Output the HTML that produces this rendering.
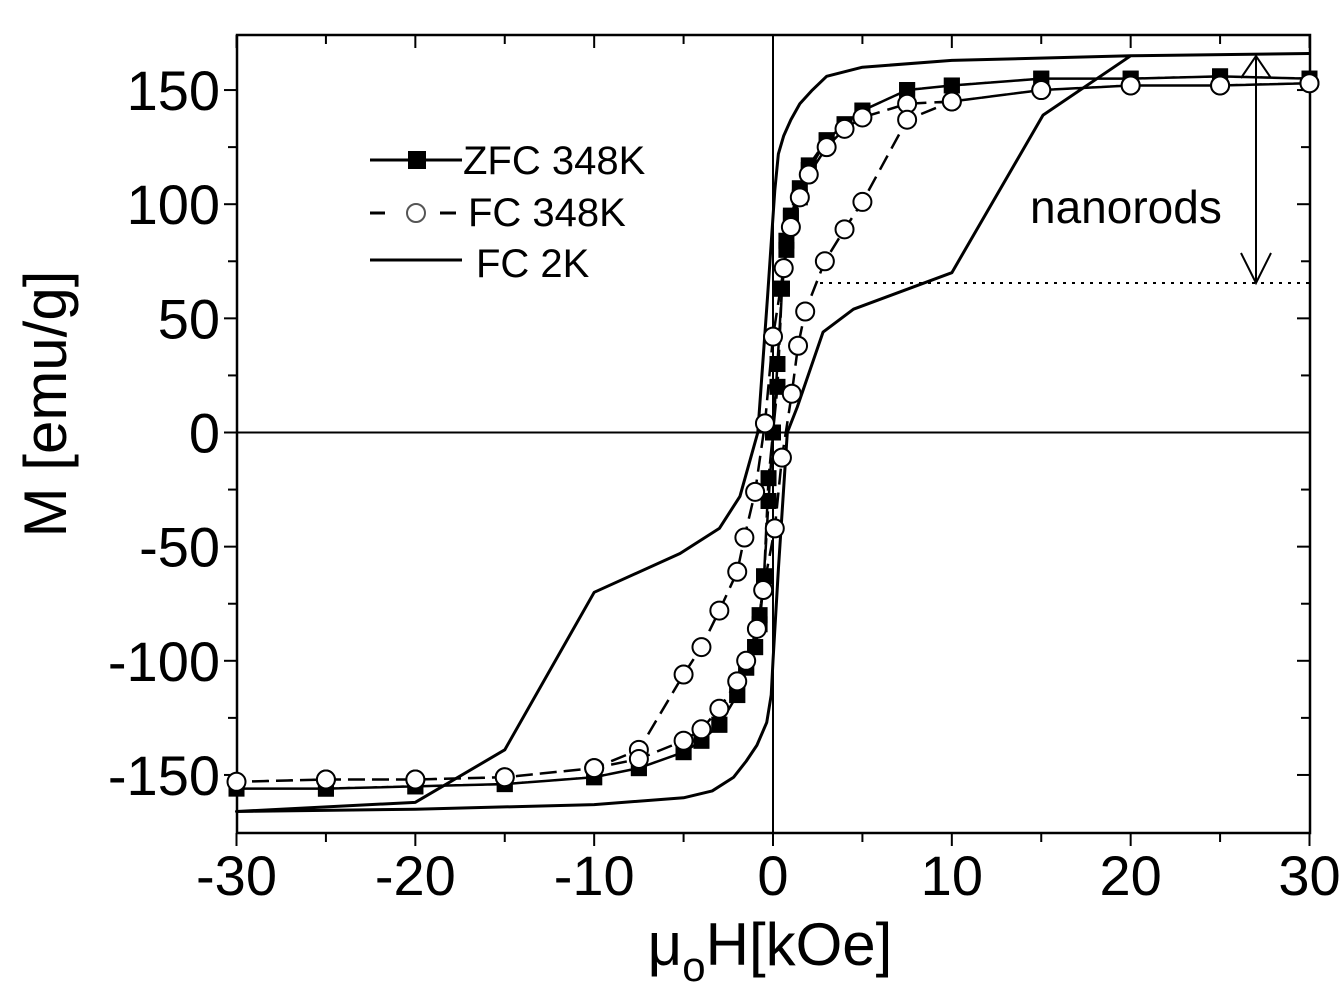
<!DOCTYPE html>
<html><head><meta charset="utf-8">
<style>
html,body{margin:0;padding:0;background:#fff;}
svg{display:block;font-family:"Liberation Sans",Arial,sans-serif;}
</style></head>
<body>
<svg id="chart" width="1342" height="1000" viewBox="0 0 1342 1000" xmlns="http://www.w3.org/2000/svg">
<g id="axes"></g>
<g id="series"></g>
<g id="legend">
  <line x1="370" y1="160" x2="462" y2="160" stroke="#000" stroke-width="3"/>
  <rect x="408" y="151" width="18" height="18" fill="#000"/>
  <text x="463" y="174" font-size="40">ZFC 348K</text>
  <line x1="370" y1="213" x2="385" y2="213" stroke="#000" stroke-width="3"/>
  <line x1="440" y1="213" x2="456" y2="213" stroke="#000" stroke-width="3"/>
  <circle cx="416" cy="213" r="9" fill="#fff" stroke="#555" stroke-width="2"/>
  <text x="468" y="226" font-size="40">FC 348K</text>
  <line x1="370" y1="260" x2="462" y2="260" stroke="#000" stroke-width="3"/>
  <text x="476" y="277" font-size="40">FC 2K</text>
</g>
<g>
  <line x1="820" y1="283" x2="1310" y2="283" stroke="#000" stroke-width="2" stroke-dasharray="3,6"/>
  <line x1="1256" y1="56" x2="1256" y2="283" stroke="#000" stroke-width="2"/>
  <polyline points="1241,78 1256,56 1271,78" fill="none" stroke="#000" stroke-width="2"/>
  <polyline points="1241,253 1256,283 1271,253" fill="none" stroke="#000" stroke-width="2"/>
  <text x="1030" y="223" font-size="46">nanorods</text>
</g>
<text transform="translate(66,404) rotate(-90)" text-anchor="middle" font-size="60">M [emu/g]</text>
<text x="770" y="965" text-anchor="middle" font-size="60">μ<tspan font-size="42" dy="16">o</tspan><tspan dy="-16">H[kOe]</tspan></text>
</svg>
<script>
// ---- data ----
const xTicks = [-30,-20,-10,0,10,20,30];
const yTicks = [-150,-100,-50,0,50,100,150];
const zfcH = [30,25,20,15,10,7.5,5,4,3,2,1.5,1,0.75,0.5,0.25,0,-0.25,-0.5,-0.75,-1,-1.5,-2,-3,-4,-5,-7.5,-10,-15,-20,-25,-30,
              -25,-20,-15,-10,-7.5,-5,-4,-3,-2,-1.5,-1,-0.75,-0.5,-0.25,0,0.25,0.5,0.75,1,1.5,2,3,4,5,7.5,10,15,20,25,30];
const zfcM = [155,156,155,155,152,150,141,135,128,117,107,95,84,63,30,0,-20,-63,-80,-94,-103,-115,-128,-135,-140,-147,-151,-154,-155,-156,-156,
              -156,-155,-154,-151,-147,-140,-135,-128,-115,-103,-94,-84,-63,-30,0,20,63,80,94,103,115,128,135,141,150,152,155,155,156,155];
const fcH = [30,25,20,15,10,7.5,5,4,3,2,1.5,1,0.6,0,-0.45,-1,-1.6,-2,-3,-4,-5,-7.5,-10,-15,-20,-25,-30,
             -25,-20,-15,-10,-7.5,-5,-4,-3,-2,-1.5,-0.9,-0.55,0.1,0.5,1.05,1.4,1.8,2.9,4,5,7.5,10,15,20,25,30];
const fcM = [153,152,152,150,145,144,138,133,125,113,103,90,72,42,4,-26,-46,-61,-78,-94,-106,-139,-147,-151,-152,-152,-153,
             -152,-152,-151,-147,-143,-135,-130,-121,-109,-100,-86,-69,-42,-11,17,38,53,75,89,101,137,145,150,152,152,153];
const fc2kH = [30,20,10,5,3,2.2,1.5,1,0.6,0.3,0.1,-0.3,-0.85,-1.85,-3,-5.2,-10,-15,-20,-30,
               -20,-10,-5,-3.4,-2.2,-1.5,-0.9,-0.35,-0.1,0,0.3,0.8,1.35,2.8,4.5,10,15.1,20,30];
const fc2kM = [166,165,163,160,156,150,144,137,130,122,106,60,0,-28,-42,-53,-70,-139,-162,-166,
               -165,-163,-160,-157,-151,-144,-137,-127,-115,-100,-60,0,11,44,54,70,139,165,166];
// ---- scales ----
const X0=237,X1=1310,Y0=35,Y1=833;
const sx = v => 773 + v*17.883;
const sy = m => 432.5 - m*2.283;
const NS='http://www.w3.org/2000/svg';
function mk(tag, attrs, parent){const e=document.createElementNS(NS,tag);for(const k in attrs)e.setAttribute(k,attrs[k]);parent.appendChild(e);return e;}
const axes=document.getElementById('axes');
const series=document.getElementById('series');
const fr=mk('rect',{x:X0,y:Y0,width:X1-X0,height:Y1-Y0,fill:'none',stroke:'#000','stroke-width':2.5},axes);


const zh=mk('line',{x1:X0,x2:X1,y1:sy(0),y2:sy(0),stroke:'#000','stroke-width':2},axes);


const zv=mk('line',{x1:sx(0),x2:sx(0),y1:Y0,y2:Y1,stroke:'#000','stroke-width':2},axes);


for(let v=-30;v<=30;v+=5){
  const major = v%10===0, L = major?13:9;
  mk('line',{x1:sx(v),x2:sx(v),y1:Y1,y2:Y1+L,stroke:'#000','stroke-width':2},axes);
  mk('line',{x1:sx(v),x2:sx(v),y1:Y0,y2:Y0+L,stroke:'#000','stroke-width':2},axes);
}
xTicks.forEach(v=>{
  const t=mk('text',{x:sx(v),y:895,'text-anchor':'middle','font-size':56},axes);
  
  
  t.textContent=v;
});
for(let m=-150;m<=150;m+=25){
  const major = m%50===0, L = major?13:9;
  mk('line',{x1:X0-L,x2:X0,y1:sy(m),y2:sy(m),stroke:'#000','stroke-width':2},axes);
  mk('line',{x1:X1-L,x2:X1,y1:sy(m),y2:sy(m),stroke:'#000','stroke-width':2},axes);
}
yTicks.forEach(m=>{
  const t=mk('text',{x:220,y:sy(m)+20,'text-anchor':'end','font-size':56},axes);
  
  
  t.textContent=m;
});
function pts(H,M){return H.map((h,i)=>sx(h)+','+sy(M[i])).join(' ');}
const l2=mk('polyline',{points:pts(fc2kH,fc2kM),fill:'none',stroke:'#000','stroke-width':3,'stroke-linejoin':'round'},series);


const lz=mk('polyline',{points:pts(zfcH,zfcM),fill:'none',stroke:'#000','stroke-width':2.5,'stroke-dasharray':'22,5'},series);


const lf=mk('polyline',{points:pts(fcH,fcM),fill:'none',stroke:'#000','stroke-width':2.5,'stroke-dasharray':'16,8'},series);


zfcH.forEach((h,i)=>{
  const r=mk('rect',{x:sx(h)-8,y:sy(zfcM[i])-8,width:16,height:16,fill:'#000'},series);
  
  
});
fcH.forEach((h,i)=>{
  const c=mk('circle',{cx:sx(h),cy:sy(fcM[i]),r:9,fill:'#fff',stroke:'#000','stroke-width':2},series);
  
  
});
</script>
</body></html>
